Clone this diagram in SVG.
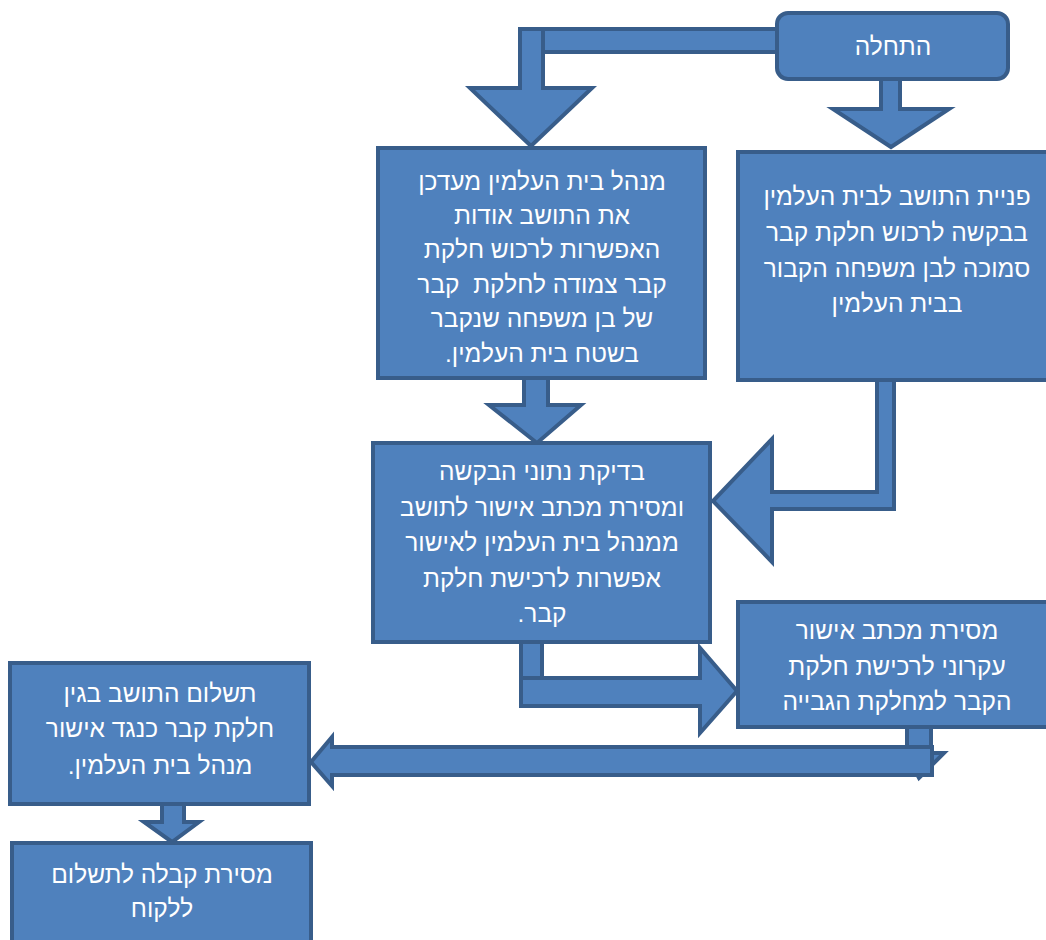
<svg xmlns="http://www.w3.org/2000/svg" width="1046" height="940" viewBox="0 0 1046 940">
<style>
.s{fill:#4F81BD;stroke:#385D8A;stroke-width:4;stroke-linejoin:miter}
.t{font-family:"Liberation Sans","DejaVu Sans",sans-serif;font-size:24.5px;fill:#FFFFFF;text-anchor:middle;direction:rtl}
</style>
<rect width="1046" height="940" fill="#FFFFFF"/>
<g id="connectors">
  <polygon class="s" points="520,29 543,29 543,88 592,88 531,146 470,88 520,88"/>
  <rect class="s" x="543" y="29" width="236" height="23"/>
  <polygon class="s" points="881,78 900,78 900,109 949,109 891,147 833,109 881,109"/>
  <polygon class="s" points="877,378 877,492 772,492 772,439 713,501 772,562 772,509 894,509 894,378"/>
  <polygon class="s" points="524,376 548,376 548,405 581,405 537,443 489,405 524,405"/>
  <rect class="s" x="521" y="640" width="21" height="66"/>
  <polygon class="s" points="521,678 700,678 700,648 737,691 700,733 700,706 521,706"/>
  <rect class="s" x="907" y="725" width="24" height="24"/>
  <polygon class="s" points="906,753 944,753 919,778"/>
  <polygon class="s" points="932,747 332,747 332,737 311,762 332,786 332,775 932,775"/>
  <polygon class="s" points="162,803 184,803 184,822 199,822 172,842 144,822 162,822"/>
</g>
<g id="start">
  <rect class="s" x="777" y="13" width="231" height="66" rx="11"/>
  <text class="t" x="893" y="55" font-size="22">התחלה</text>
</g>
<g id="request">
  <rect class="s" x="738" y="152" width="320" height="228"/>
  <text class="t" x="897"><tspan x="897" y="205">פניית התושב לבית העלמין</tspan><tspan x="897" y="241">בבקשה לרכוש חלקת קבר</tspan><tspan x="897" y="277">סמוכה לבן משפחה הקבור</tspan><tspan x="897" y="312">בבית העלמין</tspan></text>
</g>
<g id="manager-update">
  <rect class="s" x="378" y="148" width="327" height="230"/>
  <text class="t" xml:space="preserve"><tspan x="542" y="190">מנהל בית העלמין מעדכן</tspan><tspan x="542" y="224">את התושב אודות</tspan><tspan x="542" y="258">האפשרות לרכוש חלקת</tspan><tspan x="542" y="293">קבר צמודה לחלקת  קבר</tspan><tspan x="542" y="327">של בן משפחה שנקבר</tspan><tspan x="542" y="362">בשטח בית העלמין.</tspan></text>
</g>
<g id="check">
  <rect class="s" x="373" y="443" width="337" height="199"/>
  <text class="t"><tspan x="542" y="480">בדיקת נתוני הבקשה</tspan><tspan x="542" y="516">ומסירת מכתב אישור לתושב</tspan><tspan x="542" y="551">ממנהל בית העלמין לאישור</tspan><tspan x="542" y="587">אפשרות לרכישת חלקת</tspan><tspan x="542" y="622">קבר.</tspan></text>
</g>
<g id="letter">
  <rect class="s" x="738" y="602" width="320" height="125"/>
  <text class="t"><tspan x="897" y="639">מסירת מכתב אישור</tspan><tspan x="897" y="675">עקרוני לרכישת חלקת</tspan><tspan x="897" y="710">הקבר למחלקת הגבייה</tspan></text>
</g>
<g id="payment">
  <rect class="s" x="10" y="663" width="299" height="141"/>
  <text class="t"><tspan x="160" y="702">תשלום התושב בגין</tspan><tspan x="160" y="737">חלקת קבר כנגד אישור</tspan><tspan x="160" y="774">מנהל בית העלמין.</tspan></text>
</g>
<g id="receipt">
  <rect class="s" x="12" y="843" width="299" height="110"/>
  <text class="t"><tspan x="162" y="883">מסירת קבלה לתשלום</tspan><tspan x="162" y="917">ללקוח</tspan></text>
</g>
</svg>
